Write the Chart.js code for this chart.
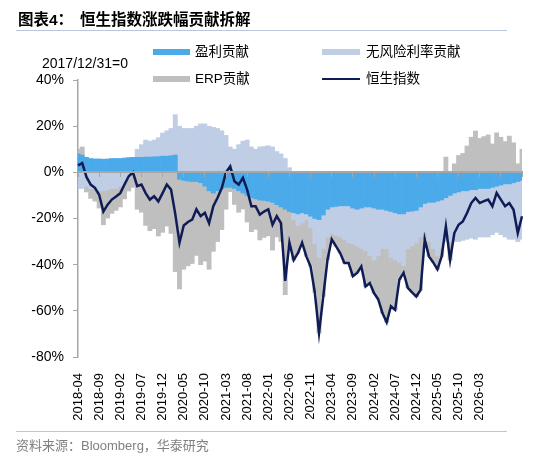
<!DOCTYPE html>
<html><head><meta charset="utf-8">
<script src="https://cdn.jsdelivr.net/npm/chart.js@4.4.1/dist/chart.umd.min.js"></script>
<style>
html,body{margin:0;padding:0;background:#fff;}
#wrap{position:relative;width:550px;height:463px;overflow:hidden;font-family:"Liberation Sans","Noto Sans CJK SC",sans-serif;color:#000;}
canvas{position:absolute;left:0;top:0;}
.abs{position:absolute;white-space:nowrap;}
.lg{font-size:13.5px;line-height:14px;}
</style></head><body>
<div id="wrap">
<canvas id="c" width="550" height="463"></canvas>
<div class="abs" style="left:18px;top:12px;font-size:15.5px;line-height:16px;font-weight:bold;">图表4：</div>
<div class="abs" style="left:80px;top:12px;font-size:15.5px;line-height:16px;font-weight:bold;">恒生指数涨跌幅贡献拆解</div>
<div class="abs" style="left:16px;top:30px;width:491px;height:0;border-top:1.5px solid #B8C7DC;"></div>

<div class="abs" style="left:153px;top:49px;width:37px;height:6px;background:#4BAAE9;"></div>
<div class="abs lg" style="left:195px;top:45px;">盈利贡献</div>
<div class="abs" style="left:322px;top:49px;width:38px;height:6px;background:#BFCDE5;"></div>
<div class="abs lg" style="left:366px;top:45px;">无风险利率贡献</div>
<div class="abs" style="left:153px;top:76px;width:37px;height:6px;background:#BFBFBF;"></div>
<div class="abs lg" style="left:195px;top:72px;">ERP贡献</div>
<div class="abs" style="left:322px;top:78px;width:38px;height:2px;background:#0F1C55;"></div>
<div class="abs lg" style="left:366px;top:72px;">恒生指数</div>

<div class="abs" style="left:42px;top:56px;font-size:14px;line-height:14px;">2017/12/31=0</div>

<div class="abs" style="left:16px;top:431px;width:491px;height:0;border-top:1.5px solid #B8C7DC;"></div>
<div class="abs" style="left:16px;top:439px;font-size:13px;line-height:14px;color:#808080;">资料来源：Bloomberg，华泰研究</div>
</div>
<script>
const categories = [];
for (let k = 0; k < 106; k++) {
  const m = 3 + k;
  categories.push((2018 + Math.floor(m / 12)) + '-' + String(m % 12 + 1).padStart(2, '0'));
}
const tickLabels = ['2018-04','2018-09','2019-02','2019-07','2019-12','2020-05','2020-10','2021-03','2021-08','2022-01','2022-06','2022-11','2023-04','2023-09','2024-02','2024-07','2024-12','2025-05','2025-10','2026-03'];

const profitContribution = [8,7.5,6.5,6,5.8,5.8,5.7,5.8,6,
  6,
  6,6.2,6.4,6.5,6.5,6.5,6.6,6.6,6.7,6.8,7,7,7.2,7.5,-3,-3.5,
  -3.8,
  -4,-4,-4.5,-6,-8,-9,-8,-7,-6.5,-6.5,-7,-8,-9,-10,-11,-11.5,-12,
  -12.2,
  -12.5,-13,-14,-15,-16,-17,-17.5,-18,-17.5,-18,-19,-20,-20.5,-18.5,-16,-15,
  -14.8,
  -14.5,-14.5,-14.5,-15.5,-16,-15.5,-15,-15,-15.5,-16,-16,-16.5,-17,-17.5,-18,-18,-17,
  -16.8,
  -16.5,-15,-13.5,-13,-13,-12.5,-12,-11,-10,-9,-8.5,-8,-8,-7.5,-7.5,-7,
  -7,
  -7,-6.5,-6,-5.5,-5,-5,-4.5,-4,-3.5];

const riskFreeContribution = [-7,-7,-6,-7,-7,-8,-8,-7.5,-7,
  -7,
  -6,-4,-2.5,-1,3.5,5.5,7.4,6.9,7.3,8.2,10,11,11.8,17.5,20,19,
  19,
  19,20,21,21,20,19.5,19,18,16,11,10,12,13.5,14,11,10,11,
  11.2,
  11.5,11,9,8,6,2,-3,-5,-4.5,-2.5,-5,-11,-16.5,-14.5,-12,-11.5,
  -12.5,
  -13.5,-14.5,-16,-15.5,-16,-17.5,-19,-21,-22.5,-20,-17,-16.5,-20,-20.5,-21,-22.5,-16,
  -15,
  -14,-13,-12.5,-17,-20,-23.5,-21,-19,-20,-21,-21.5,-21.5,-21,-21,-21.5,-21,
  -21,
  -21,-20.5,-20,-21.5,-23,-24,-24.5,-26,-25.5];

const erpContribution = [2,3.5,-2.5,-4.3,-5.5,-7.5,-14.7,-12.3,-10.8,
  -9.5,
  -9,-7.5,-5.6,-5.5,-16,-17.3,-23,-25.3,-24.4,-27.6,-26,-23.3,-26.5,-43,-47.5,-38.5,
  -36.7,
  -35.5,-32,-35.5,-32.5,-34,-25.2,-22,-17.8,-9.5,-1.9,-6.9,-9.3,-6.9,-11.5,-14.7,-13.2,-17.3,
  -16,
  -15,-20.7,-14,-15,-37,-15.5,-17.5,-12,-8.5,-15.9,-16.8,-21,-32.6,-20.8,-9.9,-2.5,
  -4.7,
  -7,-10.3,-8.8,-14,-11.6,-7.8,-15.5,-12,-14.3,-19,-28,-32,-21,-21.6,-7.5,-3,-17,
  -20.2,
  -23.3,-23,-3,-6.4,-6,-6,-3.4,6.6,-8,3.7,7.3,8.2,11.4,15.2,17.9,14.7,
  15.5,
  16.2,12.3,17.1,15.2,13.3,15.7,12.8,3.7,10];

const hsiChange = [3,4,-2,-5.3,-6.7,-9.7,-17,-14,-11.8,
  -10.5,
  -9,-5.3,-1.7,0,-6,-5.3,-9,-11.8,-10.4,-12.6,-9,-5.3,-7.5,-18,-30.5,-23,
  -21.5,
  -20.5,-16,-19,-17.5,-22,-14.7,-11,-6.8,0,2.6,-3.9,-5.3,-2.4,-7.5,-14.7,-14.7,-18.3,
  -17,
  -16,-22.7,-19,-22,-47,-30.5,-38,-35,-30.5,-36.4,-40.8,-52,-69.6,-53.8,-37.9,-29,
  -32,
  -35,-39.3,-39.3,-45,-43.6,-40.8,-49.5,-48,-52.3,-55,-61,-65,-58,-59.6,-46.5,-43.5,-50,
  -52,
  -53.8,-51,-29,-36.4,-39,-42,-36.4,-23.4,-38,-26.3,-22.7,-21.3,-17.6,-13.3,-11.1,-13.3,
  -12.5,
  -11.8,-14.7,-8.9,-11.8,-14.7,-13.3,-16.2,-26.3,-19];

Chart.defaults.font.family = '"Liberation Sans", Arial, "Noto Sans CJK SC", sans-serif';
Chart.defaults.color = '#000';

const barCommon = {stack: 's', xAxisID: 'x', yAxisID: 'y', order: 1, barPercentage: 1, categoryPercentage: 1, borderWidth: 0};

new Chart(document.getElementById('c'), {
  type: 'bar',
  data: {
    labels: categories,
    datasets: [
      Object.assign({label: '盈利贡献', data: profitContribution, backgroundColor: '#4BAAE9'}, barCommon),
      Object.assign({label: '无风险利率贡献', data: riskFreeContribution, backgroundColor: '#BFCDE5'}, barCommon),
      Object.assign({label: 'ERP贡献', data: erpContribution, backgroundColor: '#BFBFBF'}, barCommon),
      {type: 'line', label: '恒生指数', data: hsiChange, borderColor: '#0F1C55', backgroundColor: '#0F1C55', borderWidth: 2.5,
       pointRadius: 0, tension: 0, stack: 'line', order: 0, xAxisID: 'x', yAxisID: 'y', fill: false}
    ]
  },
  options: {
    responsive: false,
    animation: false,
    layout: {padding: {left: 28, right: 28, top: 80, bottom: 36}},
    plugins: {legend: {display: false}, tooltip: {enabled: false}},
    scales: {
      x: {
        type: 'category', position: 'bottom', offset: false, stacked: true,
        grid: {display: false}, border: {display: false},
        ticks: {
          autoSkip: false, maxRotation: 90, minRotation: 90, padding: 8, color: '#000', font: {size: 13},
          callback: function(v, i) { return tickLabels.includes(categories[i]) ? categories[i] : ''; }
        },
        afterFit: function(s) { s.height = 70; }
      },
      x2: {
        type: 'linear', min: 0, max: 20, position: {y: 0},
        grid: {display: true, drawOnChartArea: false, drawTicks: true, tickLength: 4, color: '#A6A6A6', lineWidth: 1, z: 1},
        border: {display: true, color: '#A6A6A6', width: 2, z: 1},
        ticks: {display: false, stepSize: 1}
      },
      y: {
        stacked: true, min: -80, max: 40,
        ticks: {stepSize: 20, color: '#000', font: {size: 14}, padding: 9, callback: function(v) { return v + '%'; }},
        grid: {display: true, drawOnChartArea: false, drawTicks: true, tickLength: 5, color: '#A6A6A6'},
        border: {display: true, color: '#A6A6A6', width: 1.5},
        afterFit: function(s) { s.width = 50; }
      }
    }
  }
});
</script>
</body></html>
